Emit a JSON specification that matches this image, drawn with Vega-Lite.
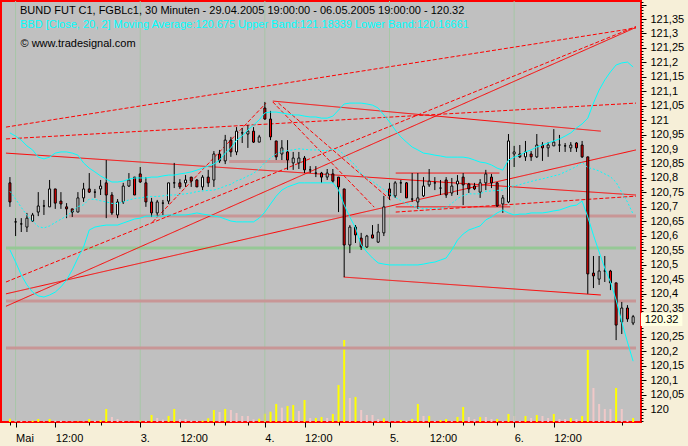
{
"$schema": "https://vega.github.io/schema/vega-lite/v6.json",
"width": 640, "height": 421,
"autosize": {"type": "none"},
"padding": {"left": 1, "top": 1, "right": 47, "bottom": 24},
"background": "#F6EFD8",
"config": {"view": {"fill": "#C0C0C0", "stroke": "#FF0000", "strokeWidth": 2}, "font": "Liberation Sans"},
"title": {"text": "BUND FUT C1, FGBLc1, 30 Minuten - 29.04.2005 19:00:00 - 06.05.2005 19:00:00 - 120.32", "subtitle": "BBD [Close, 20, 2] Moving Average:120.675 Upper Band:121.18339 Lower Band:120.16661", "anchor": "start", "frame": "group", "offset": -34, "dx": 19, "fontSize": 11, "fontWeight": "normal", "font": "Liberation Sans", "color": "black", "subtitleColor": "#00FFFF", "subtitleFontSize": 11, "subtitleFont": "Liberation Sans", "subtitlePadding": 3},
"datasets": {
"bars": [
{"i":0,"o":120.783,"h":120.803,"l":120.700,"c":120.717,"v":3.3,"vc":"Y","u":120.956,"m":120.754,"lo":120.551},
{"i":1,"o":120.648,"h":120.661,"l":120.599,"c":120.648,"v":2,"vc":"P","u":120.945,"m":120.727,"lo":120.509},
{"i":2,"o":120.641,"h":120.661,"l":120.613,"c":120.641,"v":1,"vc":"P","u":120.931,"m":120.698,"lo":120.464},
{"i":3,"o":120.630,"h":120.679,"l":120.613,"c":120.661,"v":0.7,"vc":"P","u":120.911,"m":120.671,"lo":120.430},
{"i":4,"o":120.651,"h":120.679,"l":120.648,"c":120.672,"v":1.3,"vc":"Y","u":120.897,"m":120.651,"lo":120.405},
{"i":5,"o":120.682,"h":120.751,"l":120.668,"c":120.703,"v":3,"vc":"Y","u":120.872,"m":120.632,"lo":120.392},
{"i":6,"o":120.703,"h":120.724,"l":120.672,"c":120.703,"v":0.7,"vc":"P","u":120.866,"m":120.627,"lo":120.388},
{"i":7,"o":120.700,"h":120.793,"l":120.700,"c":120.762,"v":3,"vc":"Y","u":120.872,"m":120.634,"lo":120.395},
{"i":8,"o":120.762,"h":120.762,"l":120.693,"c":120.713,"v":1.3,"vc":"P","u":120.886,"m":120.646,"lo":120.405},
{"i":9,"o":120.720,"h":120.751,"l":120.693,"c":120.710,"v":1.3,"vc":"P","u":120.890,"m":120.657,"lo":120.423},
{"i":10,"o":120.700,"h":120.713,"l":120.661,"c":120.693,"v":0.7,"vc":"P","u":120.890,"m":120.669,"lo":120.447},
{"i":11,"o":120.693,"h":120.693,"l":120.665,"c":120.682,"v":0.7,"vc":"P","u":120.886,"m":120.684,"lo":120.482},
{"i":12,"o":120.682,"h":120.751,"l":120.682,"c":120.731,"v":0.5,"vc":"Y","u":120.879,"m":120.701,"lo":120.523},
{"i":13,"o":120.731,"h":120.783,"l":120.717,"c":120.762,"v":0.7,"vc":"P","u":120.852,"m":120.707,"lo":120.561},
{"i":14,"o":120.762,"h":120.817,"l":120.748,"c":120.751,"v":3,"vc":"Y","u":120.834,"m":120.727,"lo":120.620},
{"i":15,"o":120.751,"h":120.762,"l":120.731,"c":120.751,"v":1.3,"vc":"P","u":120.821,"m":120.726,"lo":120.630},
{"i":16,"o":120.762,"h":120.793,"l":120.741,"c":120.772,"v":2,"vc":"Y","u":120.807,"m":120.721,"lo":120.634},
{"i":17,"o":120.783,"h":120.862,"l":120.661,"c":120.741,"v":13,"vc":"Y","u":120.796,"m":120.717,"lo":120.637},
{"i":18,"o":120.741,"h":120.751,"l":120.672,"c":120.679,"v":5,"vc":"P","u":120.786,"m":120.712,"lo":120.637},
{"i":19,"o":120.672,"h":120.727,"l":120.661,"c":120.717,"v":3,"vc":"P","u":120.786,"m":120.712,"lo":120.637},
{"i":20,"o":120.717,"h":120.783,"l":120.710,"c":120.772,"v":1,"vc":"P","u":120.789,"m":120.717,"lo":120.644},
{"i":21,"o":120.772,"h":120.817,"l":120.769,"c":120.793,"v":0.5,"vc":"P","u":120.796,"m":120.724,"lo":120.651},
{"i":22,"o":120.803,"h":120.803,"l":120.741,"c":120.741,"v":0.3,"vc":"P","u":120.800,"m":120.729,"lo":120.658},
{"i":23,"o":120.814,"h":120.838,"l":120.783,"c":120.786,"v":2,"vc":"Y","u":120.800,"m":120.731,"lo":120.661},
{"i":24,"o":120.783,"h":120.803,"l":120.700,"c":120.717,"v":1.3,"vc":"P","u":120.800,"m":120.734,"lo":120.668},
{"i":25,"o":120.717,"h":120.731,"l":120.665,"c":120.679,"v":7,"vc":"Y","u":120.803,"m":120.736,"lo":120.668},
{"i":26,"o":120.679,"h":120.724,"l":120.668,"c":120.717,"v":4,"vc":"P","u":120.803,"m":120.736,"lo":120.668},
{"i":27,"o":120.713,"h":120.724,"l":120.672,"c":120.713,"v":2.3,"vc":"P","u":120.807,"m":120.738,"lo":120.668},
{"i":28,"o":120.720,"h":120.783,"l":120.710,"c":120.783,"v":6,"vc":"Y","u":120.810,"m":120.741,"lo":120.672},
{"i":29,"o":120.783,"h":120.852,"l":120.765,"c":120.783,"v":13,"vc":"Y","u":120.810,"m":120.741,"lo":120.672},
{"i":30,"o":120.783,"h":120.796,"l":120.762,"c":120.769,"v":3,"vc":"P","u":120.814,"m":120.743,"lo":120.672},
{"i":31,"o":120.783,"h":120.810,"l":120.769,"c":120.793,"v":3,"vc":"P","u":120.817,"m":120.745,"lo":120.672},
{"i":32,"o":120.803,"h":120.803,"l":120.769,"c":120.789,"v":1.3,"vc":"P","u":120.821,"m":120.748,"lo":120.675},
{"i":33,"o":120.793,"h":120.796,"l":120.769,"c":120.769,"v":1.3,"vc":"P","u":120.827,"m":120.753,"lo":120.679},
{"i":34,"o":120.769,"h":120.810,"l":120.758,"c":120.803,"v":1.3,"vc":"Y","u":120.834,"m":120.755,"lo":120.675},
{"i":35,"o":120.803,"h":120.828,"l":120.769,"c":120.783,"v":3.7,"vc":"Y","u":120.841,"m":120.757,"lo":120.672},
{"i":36,"o":120.793,"h":120.893,"l":120.769,"c":120.883,"v":12,"vc":"Y","u":120.848,"m":120.758,"lo":120.668},
{"i":37,"o":120.883,"h":120.897,"l":120.852,"c":120.859,"v":10,"vc":"P","u":120.862,"m":120.764,"lo":120.665},
{"i":38,"o":120.859,"h":120.949,"l":120.848,"c":120.931,"v":13,"vc":"Y","u":120.886,"m":120.772,"lo":120.658},
{"i":39,"o":120.931,"h":120.942,"l":120.873,"c":120.890,"v":12,"vc":"P","u":120.904,"m":120.778,"lo":120.651},
{"i":40,"o":120.890,"h":120.976,"l":120.879,"c":120.962,"v":9,"vc":"P","u":120.931,"m":120.790,"lo":120.648},
{"i":41,"o":120.956,"h":120.973,"l":120.921,"c":120.956,"v":6,"vc":"P","u":120.945,"m":120.797,"lo":120.648},
{"i":42,"o":120.952,"h":120.983,"l":120.904,"c":120.962,"v":6,"vc":"P","u":120.966,"m":120.807,"lo":120.648},
{"i":43,"o":120.962,"h":120.976,"l":120.921,"c":120.924,"v":2.7,"vc":"P","u":120.983,"m":120.816,"lo":120.648},
{"i":44,"o":120.924,"h":120.949,"l":120.924,"c":120.942,"v":3.3,"vc":"Y","u":121.001,"m":120.831,"lo":120.661},
{"i":45,"o":121.042,"h":121.063,"l":121.001,"c":121.004,"v":8.3,"vc":"Y","u":121.025,"m":120.854,"lo":120.682},
{"i":46,"o":121.004,"h":121.032,"l":120.931,"c":120.942,"v":10.3,"vc":"Y","u":121.028,"m":120.869,"lo":120.710},
{"i":47,"o":120.928,"h":120.928,"l":120.862,"c":120.873,"v":18,"vc":"Y","u":121.028,"m":120.883,"lo":120.737},
{"i":48,"o":120.883,"h":120.931,"l":120.862,"c":120.904,"v":14.3,"vc":"P","u":121.025,"m":120.892,"lo":120.758},
{"i":49,"o":120.890,"h":120.931,"l":120.828,"c":120.862,"v":16,"vc":"Y","u":121.021,"m":120.895,"lo":120.769},
{"i":50,"o":120.852,"h":120.890,"l":120.828,"c":120.869,"v":17,"vc":"Y","u":121.018,"m":120.897,"lo":120.776},
{"i":51,"o":120.852,"h":120.890,"l":120.831,"c":120.869,"v":11,"vc":"P","u":121.018,"m":120.901,"lo":120.783},
{"i":52,"o":120.869,"h":120.876,"l":120.817,"c":120.828,"v":22,"vc":"Y","u":121.014,"m":120.899,"lo":120.783},
{"i":53,"o":120.828,"h":120.841,"l":120.817,"c":120.828,"v":4,"vc":"P","u":121.011,"m":120.897,"lo":120.783},
{"i":54,"o":120.817,"h":120.841,"l":120.803,"c":120.817,"v":4,"vc":"Y","u":121.011,"m":120.897,"lo":120.783},
{"i":55,"o":120.817,"h":120.821,"l":120.783,"c":120.803,"v":5,"vc":"Y","u":121.007,"m":120.895,"lo":120.783},
{"i":56,"o":120.803,"h":120.831,"l":120.793,"c":120.817,"v":4,"vc":"P","u":121.007,"m":120.895,"lo":120.783},
{"i":57,"o":120.814,"h":120.831,"l":120.783,"c":120.789,"v":8,"vc":"Y","u":121.014,"m":120.899,"lo":120.783},
{"i":58,"o":120.803,"h":120.803,"l":120.682,"c":120.769,"v":37,"vc":"Y","u":121.035,"m":120.897,"lo":120.758},
{"i":59,"o":120.762,"h":120.762,"l":120.457,"c":120.568,"v":82,"vc":"Y","u":121.056,"m":120.881,"lo":120.706},
{"i":60,"o":120.568,"h":120.637,"l":120.540,"c":120.630,"v":24,"vc":"P","u":121.059,"m":120.862,"lo":120.665},
{"i":61,"o":120.630,"h":120.637,"l":120.575,"c":120.603,"v":25,"vc":"Y","u":121.059,"m":120.843,"lo":120.627},
{"i":62,"o":120.592,"h":120.610,"l":120.551,"c":120.561,"v":12,"vc":"P","u":121.059,"m":120.814,"lo":120.568},
{"i":63,"o":120.561,"h":120.603,"l":120.558,"c":120.599,"v":7,"vc":"P","u":121.056,"m":120.800,"lo":120.544},
{"i":64,"o":120.603,"h":120.637,"l":120.592,"c":120.592,"v":7,"vc":"P","u":121.052,"m":120.788,"lo":120.523},
{"i":65,"o":120.578,"h":120.641,"l":120.575,"c":120.613,"v":3,"vc":"P","u":121.042,"m":120.774,"lo":120.506},
{"i":66,"o":120.610,"h":120.738,"l":120.599,"c":120.700,"v":3.7,"vc":"Y","u":121.018,"m":120.760,"lo":120.502},
{"i":67,"o":120.762,"h":120.783,"l":120.724,"c":120.738,"v":1,"vc":"P","u":120.994,"m":120.747,"lo":120.499},
{"i":68,"o":120.738,"h":120.789,"l":120.731,"c":120.783,"v":0.7,"vc":"P","u":120.966,"m":120.733,"lo":120.499},
{"i":69,"o":120.783,"h":120.793,"l":120.748,"c":120.783,"v":2,"vc":"Y","u":120.942,"m":120.721,"lo":120.499},
{"i":70,"o":120.783,"h":120.786,"l":120.731,"c":120.731,"v":1.3,"vc":"P","u":120.924,"m":120.712,"lo":120.499},
{"i":71,"o":120.727,"h":120.817,"l":120.717,"c":120.727,"v":3,"vc":"Y","u":120.907,"m":120.703,"lo":120.499},
{"i":72,"o":120.717,"h":120.817,"l":120.693,"c":120.731,"v":18,"vc":"Y","u":120.897,"m":120.698,"lo":120.499},
{"i":73,"o":120.738,"h":120.803,"l":120.734,"c":120.772,"v":6,"vc":"P","u":120.886,"m":120.694,"lo":120.502},
{"i":74,"o":120.776,"h":120.831,"l":120.769,"c":120.789,"v":6,"vc":"Y","u":120.883,"m":120.695,"lo":120.506},
{"i":75,"o":120.783,"h":120.803,"l":120.758,"c":120.783,"v":1,"vc":"P","u":120.879,"m":120.694,"lo":120.509},
{"i":76,"o":120.765,"h":120.793,"l":120.741,"c":120.765,"v":2,"vc":"Y","u":120.876,"m":120.696,"lo":120.516},
{"i":77,"o":120.793,"h":120.803,"l":120.731,"c":120.741,"v":3,"vc":"Y","u":120.872,"m":120.698,"lo":120.523},
{"i":78,"o":120.748,"h":120.800,"l":120.738,"c":120.772,"v":1,"vc":"P","u":120.872,"m":120.712,"lo":120.551},
{"i":79,"o":120.779,"h":120.810,"l":120.741,"c":120.789,"v":5,"vc":"Y","u":120.872,"m":120.729,"lo":120.585},
{"i":80,"o":120.803,"h":120.817,"l":120.706,"c":120.776,"v":15,"vc":"Y","u":120.872,"m":120.739,"lo":120.606},
{"i":81,"o":120.779,"h":120.783,"l":120.748,"c":120.762,"v":5,"vc":"P","u":120.869,"m":120.745,"lo":120.620},
{"i":82,"o":120.772,"h":120.783,"l":120.758,"c":120.762,"v":3,"vc":"P","u":120.862,"m":120.745,"lo":120.627},
{"i":83,"o":120.751,"h":120.796,"l":120.731,"c":120.783,"v":5,"vc":"Y","u":120.855,"m":120.745,"lo":120.634},
{"i":84,"o":120.783,"h":120.828,"l":120.758,"c":120.814,"v":5,"vc":"P","u":120.852,"m":120.754,"lo":120.655},
{"i":85,"o":120.803,"h":120.814,"l":120.765,"c":120.783,"v":3,"vc":"P","u":120.845,"m":120.755,"lo":120.665},
{"i":86,"o":120.783,"h":120.786,"l":120.700,"c":120.703,"v":3,"vc":"Y","u":120.834,"m":120.757,"lo":120.679},
{"i":87,"o":120.710,"h":120.741,"l":120.679,"c":120.731,"v":1,"vc":"P","u":120.827,"m":120.758,"lo":120.689},
{"i":88,"o":120.717,"h":120.952,"l":120.713,"c":120.928,"v":8,"vc":"Y","u":120.862,"m":120.771,"lo":120.679},
{"i":89,"o":120.883,"h":120.911,"l":120.838,"c":120.890,"v":6,"vc":"P","u":120.872,"m":120.772,"lo":120.672},
{"i":90,"o":120.883,"h":120.914,"l":120.869,"c":120.873,"v":1,"vc":"P","u":120.879,"m":120.777,"lo":120.675},
{"i":91,"o":120.873,"h":120.928,"l":120.859,"c":120.890,"v":6,"vc":"Y","u":120.890,"m":120.783,"lo":120.675},
{"i":92,"o":120.883,"h":120.893,"l":120.859,"c":120.873,"v":4,"vc":"P","u":120.897,"m":120.788,"lo":120.679},
{"i":93,"o":120.873,"h":120.952,"l":120.869,"c":120.914,"v":7,"vc":"Y","u":120.907,"m":120.793,"lo":120.679},
{"i":94,"o":120.914,"h":120.924,"l":120.859,"c":120.904,"v":6,"vc":"P","u":120.914,"m":120.797,"lo":120.679},
{"i":95,"o":120.904,"h":120.924,"l":120.873,"c":120.914,"v":4,"vc":"P","u":120.921,"m":120.802,"lo":120.682},
{"i":96,"o":120.911,"h":120.969,"l":120.911,"c":120.924,"v":8,"vc":"Y","u":120.928,"m":120.807,"lo":120.686},
{"i":97,"o":120.914,"h":120.949,"l":120.890,"c":120.914,"v":3,"vc":"P","u":120.935,"m":120.812,"lo":120.689},
{"i":98,"o":120.911,"h":120.921,"l":120.890,"c":120.911,"v":3,"vc":"P","u":120.945,"m":120.821,"lo":120.696},
{"i":99,"o":120.904,"h":120.924,"l":120.890,"c":120.914,"v":4,"vc":"Y","u":120.956,"m":120.830,"lo":120.703},
{"i":100,"o":120.921,"h":120.924,"l":120.890,"c":120.904,"v":3,"vc":"P","u":120.973,"m":120.840,"lo":120.706},
{"i":101,"o":120.914,"h":120.928,"l":120.869,"c":120.873,"v":6,"vc":"Y","u":120.987,"m":120.854,"lo":120.720},
{"i":102,"o":120.873,"h":120.873,"l":120.399,"c":120.468,"v":72,"vc":"Y","u":121.007,"m":120.836,"lo":120.665},
{"i":103,"o":120.471,"h":120.530,"l":120.419,"c":120.461,"v":34,"vc":"P","u":121.059,"m":120.831,"lo":120.602},
{"i":104,"o":120.450,"h":120.530,"l":120.430,"c":120.478,"v":18,"vc":"P","u":121.104,"m":120.824,"lo":120.544},
{"i":105,"o":120.478,"h":120.530,"l":120.440,"c":120.478,"v":13,"vc":"P","u":121.139,"m":120.814,"lo":120.488},
{"i":106,"o":120.478,"h":120.482,"l":120.412,"c":120.437,"v":13,"vc":"P","u":121.167,"m":120.804,"lo":120.440},
{"i":107,"o":120.437,"h":120.437,"l":120.239,"c":120.291,"v":34,"vc":"Y","u":121.191,"m":120.785,"lo":120.378},
{"i":108,"o":120.302,"h":120.371,"l":120.260,"c":120.350,"v":13,"vc":"P","u":121.198,"m":120.750,"lo":120.302},
{"i":109,"o":120.350,"h":120.360,"l":120.302,"c":120.312,"v":2,"vc":"P","u":121.201,"m":120.717,"lo":120.232},
{"i":110,"o":120.298,"h":120.326,"l":120.291,"c":120.320,"v":4,"vc":"Y","u":121.184,"m":120.675,"lo":120.166}
],
"tl": [
{"id":"A","s":"s","i":-0.7,"p":120.886},{"id":"A","s":"s","i":110.51,"p":120.741},
{"id":"U","s":"s","i":46.4,"p":121.066},{"id":"U","s":"s","i":104.3,"p":120.962},
{"id":"L","s":"s","i":58.9,"p":120.457},{"id":"L","s":"s","i":104.3,"p":120.395},
{"id":"B","s":"s","i":-0.7,"p":120.356},{"id":"B","s":"s","i":110.51,"p":121.321},
{"id":"C","s":"s","i":-0.7,"p":120.399},{"id":"C","s":"s","i":110.51,"p":120.897},
{"id":"BT","s":"s","i":68.1,"p":120.817},{"id":"BT","s":"s","i":86.4,"p":120.817},
{"id":"BB","s":"s","i":68.1,"p":120.700},{"id":"BB","s":"s","i":88.3,"p":120.700},
{"id":"D1","s":"d","i":-0.7,"p":120.976},{"id":"D1","s":"d","i":110.51,"p":121.319},
{"id":"D2","s":"d","i":-0.7,"p":120.935},{"id":"D2","s":"d","i":110.51,"p":121.059},
{"id":"D3","s":"d","i":-0.7,"p":120.440},{"id":"D3","s":"d","i":110.51,"p":121.324},
{"id":"D5","s":"d","i":25.2,"p":120.648},{"id":"D5","s":"d","i":45.2,"p":121.059},
{"id":"X1","s":"d","i":46.4,"p":121.063},{"id":"X1","s":"d","i":64.3,"p":120.699},
{"id":"X2","s":"d","i":47.4,"p":121.059},{"id":"X2","s":"d","i":67.2,"p":120.724},
{"id":"E","s":"d","i":68.1,"p":120.682},{"id":"E","s":"d","i":110.51,"p":120.737}
],
"hl": [
{"p":120.668,"i1":10.4,"i2":110.51,"k":"pink"},
{"p":120.857,"i1":38.7,"i2":49.5,"k":"pink"},
{"p":120.558,"i1":-0.7,"i2":110.51,"k":"green"},
{"p":120.374,"i1":-0.7,"i2":110.51,"k":"pink"},
{"p":120.212,"i1":-0.7,"i2":110.51,"k":"pink"}
],
"days": [{"i":1},{"i":23},{"i":45},{"i":67},{"i":89}],
"last": [{"p":120.32}]
},
"layer": [
{
"data": {"name": "bars"},
"mark": {"type": "bar", "size": 2},
"encoding": {
"x": {"field": "i", "type": "quantitative", "scale": {"domain": [-0.695, 110.51], "nice": false, "zero": false}, "axis": {"orient": "top", "domain": false, "ticks": false, "labels": false, "grid": false, "title": "© www.tradesignal.com", "titleX": 19, "titleY": 42, "titleAlign": "left", "titleBaseline": "middle", "titleFontSize": 11, "titleFontWeight": "normal", "titleColor": "black", "titleFont": "Liberation Sans", "titleAngle": 0}},
"y": {"field": "v", "type": "quantitative", "scale": {"domain": [0, 421], "nice": false}, "axis": null},
"color": {"field": "vc", "type": "nominal", "scale": {"domain": ["Y", "P"], "range": ["#FFFF00", "#F0C8C8"]}, "legend": null}
}
},
{
"data": {"name": "days"},
"mark": {"type": "rule", "color": "#A6C6A6", "strokeWidth": 1},
"encoding": {"x": {"field": "i", "type": "quantitative", "scale": {"domain": [-0.695, 110.51], "nice": false, "zero": false}, "axis": null}}
},
{
"data": {"name": "hl"},
"mark": {"type": "rule", "strokeWidth": 3},
"encoding": {
"x": {"field": "i1", "type": "quantitative", "scale": {"domain": [-0.695, 110.51], "nice": false, "zero": false}, "axis": null},
"x2": {"field": "i2"},
"y": {"field": "p", "type": "quantitative", "scale": {"domain": [119.9556, 121.4123], "nice": false, "zero": false}, "axis": null},
"color": {"field": "k", "type": "nominal", "scale": {"domain": ["pink", "green"], "range": ["#C89696", "#96C896"]}, "legend": null}
}
},
{
"data": {"name": "tl"},
"mark": {"type": "line", "strokeWidth": 1, "color": "#FF0000"},
"encoding": {
"x": {"field": "i", "type": "quantitative", "scale": {"domain": [-0.695, 110.51], "nice": false, "zero": false}, "axis": null},
"y": {"field": "p", "type": "quantitative", "scale": {"domain": [119.9556, 121.4123], "nice": false, "zero": false}, "axis": null},
"detail": {"field": "id", "type": "nominal"},
"strokeDash": {"field": "s", "type": "nominal", "scale": {"domain": ["s", "d"], "range": [[1, 0], [4, 2]]}, "legend": null}
}
},
{
"data": {"name": "bars"},
"mark": {"type": "rule", "color": "black", "strokeWidth": 1},
"encoding": {
"x": {"field": "i", "type": "quantitative", "scale": {"domain": [-0.695, 110.51], "nice": false, "zero": false},
 "axis": {"orient": "bottom", "values": [0,1,8,14,16,23,30,36,38,42,45,52,58,64,67,74,80,82,86,89,96,108],
 "labelExpr": "datum.value == 1 ? 'Mai' : datum.value == 23 ? '3.' : datum.value == 45 ? '4.' : datum.value == 67 ? '5.' : datum.value == 89 ? '6.' : indexof([8,30,52,74,96], datum.value) >= 0 ? '12:00' : ''",
 "labelAlign": "left", "labelBaseline": "top", "labelFontSize": 11, "labelColor": "black", "labelPadding": 5, "labelFont": "Liberation Sans",
 "tickColor": "black", "tickSize": {"condition": {"test": "indexof([1,8,23,30,45,52,67,74,89,96], datum.value) >= 0", "value": 5}, "value": 3},
 "domain": false, "grid": false, "title": null, "labelFlush": false, "labelOverlap": false, "labelBound": false}},
"y": {"field": "l", "type": "quantitative", "scale": {"domain": [119.9556, 121.4123], "nice": false, "zero": false},
 "axis": {"orient": "right", "values": [119.96,119.97,119.98,119.99,120,120.01,120.02,120.03,120.04,120.05,120.06,120.07,120.08,120.09,120.1,120.11,120.12,120.13,120.14,120.15,120.16,120.17,120.18,120.19,120.2,120.21,120.22,120.23,120.24,120.25,120.26,120.27,120.28,120.29,120.3,120.31,120.32,120.33,120.34,120.35,120.36,120.37,120.38,120.39,120.4,120.41,120.42,120.43,120.44,120.45,120.46,120.47,120.48,120.49,120.5,120.51,120.52,120.53,120.54,120.55,120.56,120.57,120.58,120.59,120.6,120.61,120.62,120.63,120.64,120.65,120.66,120.67,120.68,120.69,120.7,120.71,120.72,120.73,120.74,120.75,120.76,120.77,120.78,120.79,120.8,120.81,120.82,120.83,120.84,120.85,120.86,120.87,120.88,120.89,120.9,120.91,120.92,120.93,120.94,120.95,120.96,120.97,120.98,120.99,121,121.01,121.02,121.03,121.04,121.05,121.06,121.07,121.08,121.09,121.1,121.11,121.12,121.13,121.14,121.15,121.16,121.17,121.18,121.19,121.2,121.21,121.22,121.23,121.24,121.25,121.26,121.27,121.28,121.29,121.3,121.31,121.32,121.33,121.34,121.35,121.36,121.37,121.38,121.39,121.4,121.41],
 "labelExpr": "abs(datum.value*20 - round(datum.value*20)) < 0.001 && datum.value < 121.37 && abs(datum.value - 120.3) > 0.001 ? replace(toString(round(datum.value*100)/100), '.', ',') : ''",
 "tickSize": {"condition": {"test": "abs(datum.value*20 - round(datum.value*20)) < 0.001", "value": 5}, "value": 2},
 "tickColor": "black", "domain": false, "grid": false, "title": null, "labelFontSize": 11, "labelColor": "black", "labelPadding": 4, "labelBaseline": "middle", "labelFont": "Liberation Sans", "labelOverlap": false, "labelBound": false, "labelFlush": false}},
"y2": {"field": "h"}
}
},
{
"data": {"name": "bars"},
"mark": {"type": "bar", "size": 2, "stroke": "black", "strokeWidth": 1},
"encoding": {
"x": {"field": "i", "type": "quantitative", "scale": {"domain": [-0.695, 110.51], "nice": false, "zero": false}, "axis": null},
"y": {"field": "o", "type": "quantitative", "scale": {"domain": [119.9556, 121.4123], "nice": false, "zero": false}, "axis": null},
"y2": {"field": "c"},
"fill": {"condition": {"test": "datum.c < datum.o", "value": "#FF0000"}, "value": "#FFFFFF"}
}
},
{
"data": {"name": "bars"},
"mark": {"type": "line", "color": "#00FFFF", "strokeWidth": 1},
"encoding": {
"x": {"field": "i", "type": "quantitative", "scale": {"domain": [-0.695, 110.51], "nice": false, "zero": false}, "axis": null},
"y": {"field": "u", "type": "quantitative", "scale": {"domain": [119.9556, 121.4123], "nice": false, "zero": false}, "axis": null}
}
},
{
"data": {"name": "bars"},
"mark": {"type": "line", "color": "#00FFFF", "strokeWidth": 1},
"encoding": {
"x": {"field": "i", "type": "quantitative", "scale": {"domain": [-0.695, 110.51], "nice": false, "zero": false}, "axis": null},
"y": {"field": "lo", "type": "quantitative", "scale": {"domain": [119.9556, 121.4123], "nice": false, "zero": false}, "axis": null}
}
},
{
"data": {"name": "bars"},
"mark": {"type": "line", "color": "#00FFFF", "strokeWidth": 1, "strokeDash": [2, 2]},
"encoding": {
"x": {"field": "i", "type": "quantitative", "scale": {"domain": [-0.695, 110.51], "nice": false, "zero": false}, "axis": null},
"y": {"field": "m", "type": "quantitative", "scale": {"domain": [119.9556, 121.4123], "nice": false, "zero": false}, "axis": null}
}
},
{
"data": {"name": "last"},
"mark": {"type": "rect", "color": "#FFFFE1", "opacity": 1},
"encoding": {
"x": {"datum": 111.38, "type": "quantitative", "scale": {"domain": [-0.695, 110.51], "nice": false, "zero": false}, "axis": null},
"x2": {"datum": 118.7},
"y": {"datum": 120.334, "type": "quantitative", "scale": {"domain": [119.9556, 121.4123], "nice": false, "zero": false}, "axis": null},
"y2": {"datum": 120.288}
}
},
{
"data": {"name": "last"},
"mark": {"type": "text", "align": "left", "baseline": "middle", "fontSize": 11, "font": "Liberation Sans", "color": "black", "dy": 3},
"encoding": {
"x": {"datum": 112.05, "type": "quantitative", "scale": {"domain": [-0.695, 110.51], "nice": false, "zero": false}, "axis": null},
"y": {"field": "p", "type": "quantitative", "scale": {"domain": [119.9556, 121.4123], "nice": false, "zero": false}, "axis": null},
"text": {"field": "p", "type": "quantitative", "format": ".2f"}
}
}
],
"resolve": {"scale": {"y": "independent", "color": "independent"}, "axis": {"x": "independent", "y": "independent"}}
}
